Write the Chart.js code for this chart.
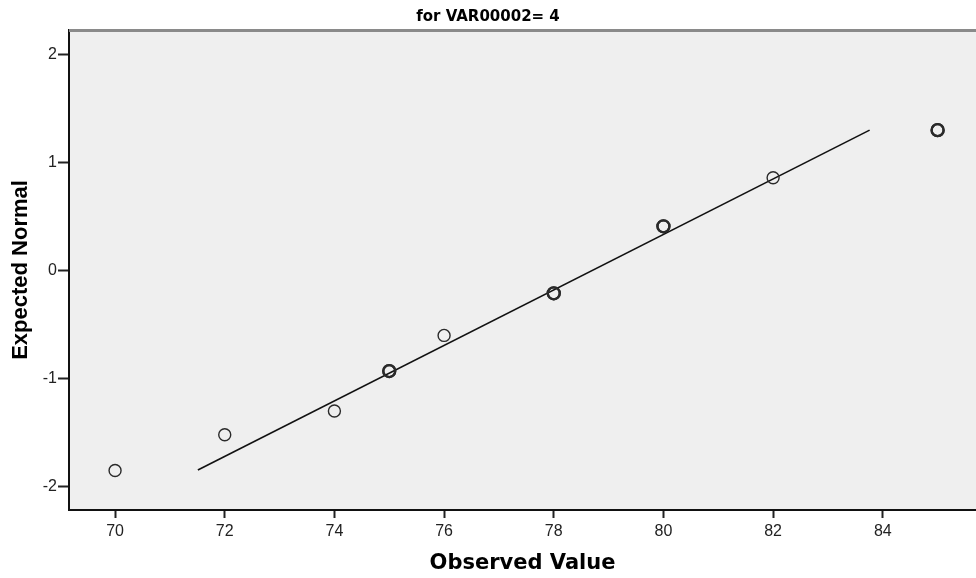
<!DOCTYPE html>
<html>
  <head>
    <title>Normal Q-Q Plot</title>
    <script src="https://cdnjs.cloudflare.com/ajax/libs/Chart.js/4.4.1/chart.umd.min.js"></script>
    <style>
      body { margin: 0; background: #fff; }
      #wrap { width: 976px; height: 578px; }
    </style>
  </head>
  <body>
    <div id="wrap"><canvas id="myChart"></canvas></div>
    <script>
      // observed values (repeats are tied cases) and their expected normal scores
      const observed = [70, 72, 74, 75, 75, 76, 78, 78, 80, 80, 82, 85, 85];
      const expected = [-1.85, -1.52, -1.30, -0.93, -0.93, -0.60, -0.21, -0.21, 0.41, 0.41, 0.86, 1.30, 1.30];

      // reference line end points
      const lineX = [71.51, 83.76];
      const lineY = [-1.846, 1.30];

      const xTicks = [70, 72, 74, 76, 78, 80, 82, 84];
      const yTicks = [-2, -1, 0, 1, 2];

      const points = observed.map((v, i) => ({ x: v, y: expected[i] }));
      const fitLine = lineX.map((v, i) => ({ x: v, y: lineY[i] }));

      function isTied(i) {
        return observed.filter((v) => v === observed[i]).length > 1;
      }

      // grey plot area + top frame line
      const plotFrame = {
        id: "plotFrame",
        beforeDraw(chart) {
          const { ctx, chartArea: a } = chart;
          ctx.save();
          ctx.fillStyle = "#efefef";
          ctx.fillRect(a.left, a.top, a.right - a.left, a.bottom - a.top);
          ctx.restore();
        },
        afterDraw(chart) {
          const { ctx, chartArea: a } = chart;
          ctx.save();
          ctx.strokeStyle = "#8a8a8a";
          ctx.lineWidth = 3;
          ctx.beginPath();
          ctx.moveTo(a.left, a.top + 0.5);
          ctx.lineTo(a.right, a.top + 0.5);
          ctx.stroke();
          ctx.restore();
        },
      };

      const chart = new Chart(document.getElementById("myChart"), {
        type: "scatter",
        data: {
          datasets: [
            {
              label: "Observed",
              data: points,
              pointStyle: "circle",
              pointRadius: 6,
              pointHoverRadius: 6,
              backgroundColor: "rgba(0,0,0,0)",
              borderColor: "#2a2a2a",
              borderWidth: (c) => (isTied(c.dataIndex) ? 2.3 : 1.4),
            },
            {
              type: "line",
              label: "Fit",
              data: fitLine,
              borderColor: "#111",
              borderWidth: 1.6,
              pointRadius: 0,
              fill: false,
            },
          ],
        },
        plugins: [plotFrame],
        options: {
          responsive: true,
          maintainAspectRatio: false,
          animation: false,
          layout: { autoPadding: false, padding: 0 },
          plugins: {
            legend: { display: false },
            tooltip: { enabled: false },
            title: {
              display: true,
              text: "for VAR00002= 4",
              color: "#000",
              font: { family: "DejaVu Sans", size: 15, weight: "bold" },
              padding: { top: 8, bottom: 4 },
            },
          },
          scales: {
            x: {
              type: "linear",
              min: 69.16,
              max: 85.7,
              afterBuildTicks: (s) => {
                s.ticks = xTicks.map((v) => ({ value: v }));
              },
              afterFit: (s) => {
                s.height = 68;
              },
              ticks: {
                color: "#222",
                font: { family: "Liberation Sans", size: 16 },
                padding: 4,
                maxRotation: 0,
              },
              grid: {
                drawOnChartArea: false,
                drawTicks: true,
                tickLength: 8,
                tickWidth: 2,
                tickColor: "#222",
              },
              border: { display: true, color: "#111", width: 2 },
              title: {
                display: true,
                text: "Observed Value",
                color: "#000",
                font: { family: "DejaVu Sans", size: 21, weight: "bold" },
                padding: { top: 0, bottom: 2 },
              },
            },
            y: {
              type: "linear",
              min: -2.216,
              max: 2.227,
              afterBuildTicks: (s) => {
                s.ticks = yTicks.map((v) => ({ value: v }));
              },
              afterFit: (s) => {
                s.width = 69;
              },
              ticks: {
                color: "#222",
                font: { family: "Liberation Sans", size: 16 },
                padding: 1,
              },
              grid: {
                drawOnChartArea: false,
                drawTicks: true,
                tickLength: 11,
                tickWidth: 2,
                tickColor: "#222",
              },
              border: { display: true, color: "#111", width: 2 },
              title: {
                display: true,
                text: "Expected Normal",
                color: "#000",
                font: { family: "Liberation Sans", size: 22, weight: "bold" },
                padding: { top: 8, bottom: 0 },
              },
            },
          },
        },
      });
    </script>
  </body>
</html>
